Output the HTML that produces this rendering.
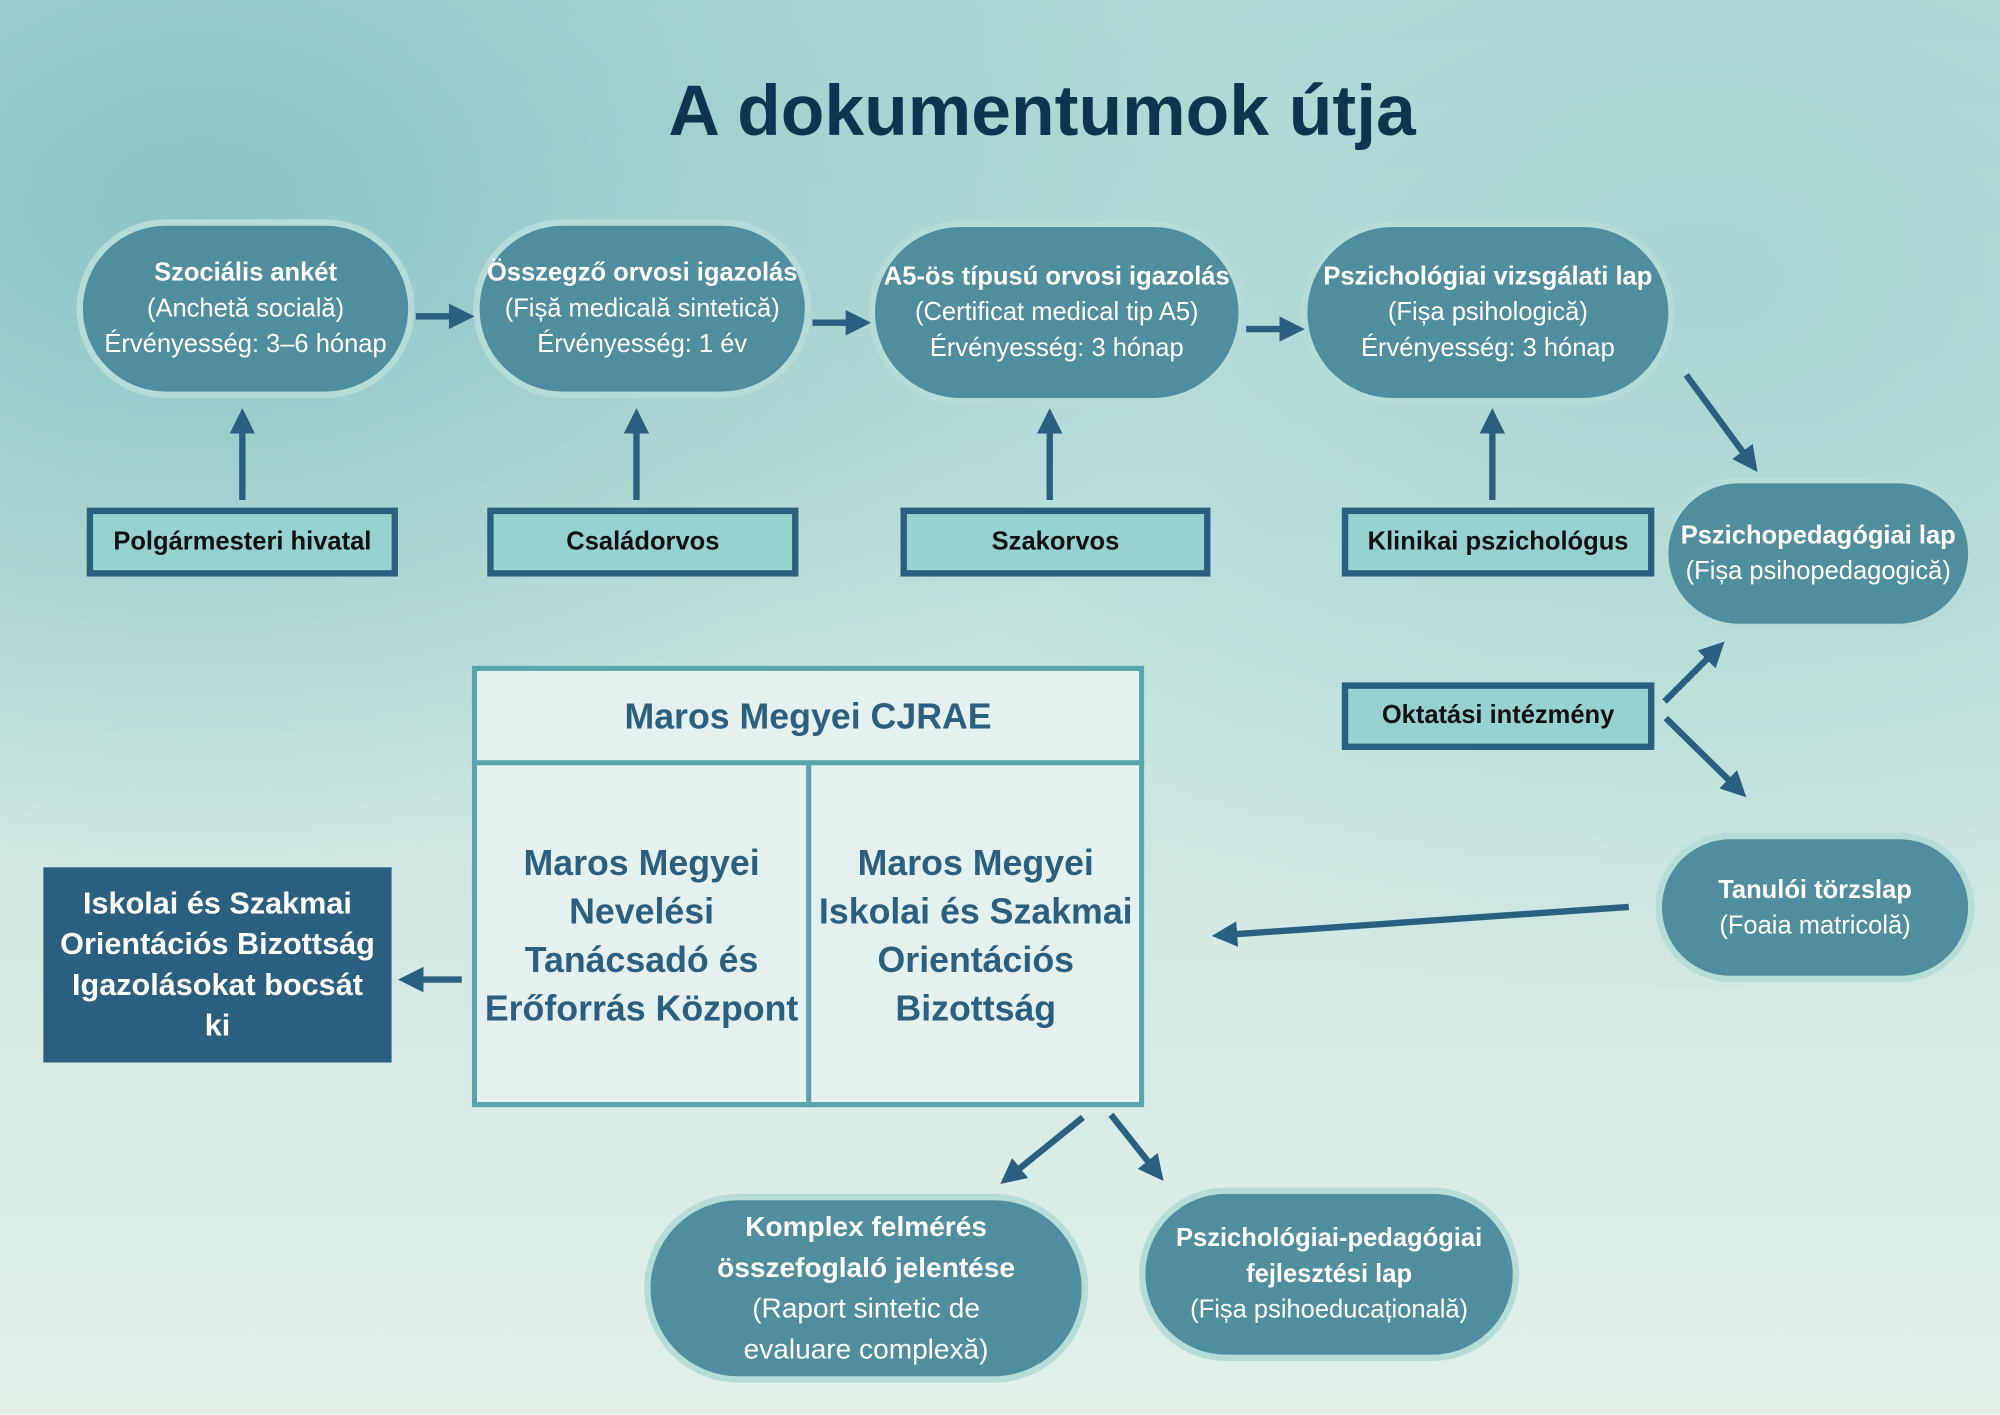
<!DOCTYPE html>
<html><head><meta charset="utf-8"><style>
html,body{margin:0;padding:0;width:2000px;height:1414px;overflow:hidden}
#w{position:absolute;left:0;top:0;width:1568px;height:1109px;transform:scale(1.27551);transform-origin:0 0;
background:radial-gradient(ellipse at 10% 15%,#8cc4c4 0%,rgba(140,196,196,0) 40%),radial-gradient(ellipse at 85% 20%,#a9d6d3 0%,rgba(169,214,211,0) 45%),linear-gradient(180deg,#b3dcd8 0%,#c9e6e0 45%,#e2f0e8 100%);
font-family:"Liberation Sans Narrow","Liberation Sans",sans-serif}
.p{position:absolute;box-sizing:border-box;border-radius:9999px;background:#508e9f;border:5px solid #b6dcd7;color:#fff;text-align:center;display:flex;flex-direction:column;justify-content:center;font-size:20px;line-height:28px}
.p b{font-size:20px}
.bx{position:absolute;box-sizing:border-box;background:#96d3d0;border:5px solid #2b5f80;font-weight:bold;font-size:20px;display:flex;align-items:center;justify-content:center;color:#111}
.t{position:absolute;left:33px;width:1568px;top:54px;text-align:center;font-family:"Liberation Sans",sans-serif;font-weight:bold;font-size:56px;color:#0d3550}
</style></head><body><div id="w">
<div class="t">A dokumentumok útja</div>
<div class="p" style="left:60px;top:172px;width:265px;height:140px"><b>Szociális ankét</b>(Anchetă socială)<br>Érvényesség: 3–6 hónap</div>
<div class="p" style="left:371px;top:172px;width:265px;height:140px"><b>Összegző orvosi igazolás</b>(Fișă medicală sintetică)<br>Érvényesség: 1 év</div>
<div class="p" style="left:681px;top:173px;width:295px;height:144px"><b>A5-ös típusú orvosi igazolás</b>(Certificat medical tip A5)<br>Érvényesség: 3 hónap</div>
<div class="p" style="left:1020px;top:173px;width:293px;height:144px"><b>Pszichológiai vizsgálati lap</b>(Fișa psihologică)<br>Érvényesség: 3 hónap</div>
<div class="p" style="left:1303px;top:374px;width:245px;height:120px"><b>Pszichopedagógiai lap</b>(Fișa psihopedagogică)</div>
<div class="p" style="left:1298px;top:653px;width:250px;height:117px"><b>Tanulói törzslap</b>(Foaia matricolă)</div>
<div class="p" style="left:505px;top:936px;width:348px;height:148px;font-size:22px;line-height:32px"><b style="font-size:22px">Komplex felmérés<br>összefoglaló jelentése</b>(Raport sintetic de<br>evaluare complexă)</div>
<div class="p" style="left:893px;top:931px;width:298px;height:136px"><b>Pszichológiai-pedagógiai<br>fejlesztési lap</b>(Fișa psihoeducațională)</div>
<div class="bx" style="left:68px;top:398px;width:244px;height:54px">Polgármesteri hivatal</div>
<div class="bx" style="left:382px;top:398px;width:244px;height:54px">Családorvos</div>
<div class="bx" style="left:706px;top:398px;width:243px;height:54px">Szakorvos</div>
<div class="bx" style="left:1052px;top:398px;width:245px;height:54px">Klinikai pszichológus</div>
<div class="bx" style="left:1052px;top:535px;width:245px;height:53px">Oktatási intézmény</div>
<div style="position:absolute;left:34px;top:680px;width:273px;height:153px;background:#2b5f80;color:#fff;font-weight:bold;font-size:24px;line-height:32px;text-align:center;display:flex;align-items:center;justify-content:center">Iskolai és Szakmai<br>Orientációs Bizottság<br>Igazolásokat bocsát<br>ki</div>
<div style="position:absolute;left:370px;top:522px;width:527px;height:346px;box-sizing:border-box;border:4px solid #5aa5aa;background:#e5f1ee"></div>
<div style="position:absolute;left:370px;top:596px;width:527px;height:4px;background:#5aa5aa"></div>
<div style="position:absolute;left:632px;top:598px;width:4px;height:270px;background:#5aa5aa"></div>
<div style="position:absolute;left:370px;top:546px;width:527px;text-align:center;font-size:28px;font-weight:bold;color:#2b5f80">Maros Megyei CJRAE</div>
<div style="position:absolute;left:374px;top:658px;width:258px;text-align:center;font-size:28px;line-height:38px;font-weight:bold;color:#2b5f80">Maros Megyei Nevelési Tanácsadó és Erőforrás Központ</div>
<div style="position:absolute;left:636px;top:658px;width:258px;text-align:center;font-size:28px;line-height:38px;font-weight:bold;color:#2b5f80">Maros Megyei Iskolai és Szakmai Orientációs Bizottság</div>
<svg width="1568" height="1109" style="position:absolute;left:0;top:0">
<defs><marker id="a" markerWidth="4" markerHeight="4" refX="2" refY="2" orient="auto" markerUnits="strokeWidth"><path d="M0,0L4,2L0,4z" fill="#2b5f80"/></marker></defs>
<g stroke="#2b5f80" stroke-width="5" fill="none" marker-end="url(#a)">
<line x1="326" y1="248" x2="362" y2="248"/>
<line x1="637" y1="253" x2="673" y2="253"/>
<line x1="977" y1="258" x2="1013" y2="258"/>
<line x1="190" y1="392" x2="190" y2="330"/>
<line x1="499" y1="392" x2="499" y2="330"/>
<line x1="823" y1="392" x2="823" y2="330"/>
<line x1="1170" y1="392" x2="1170" y2="330"/>
<line x1="1322" y1="294" x2="1372" y2="362"/>
<line x1="1305" y1="550" x2="1345" y2="510"/>
<line x1="1306" y1="563" x2="1362" y2="618"/>
<line x1="1277" y1="711" x2="960" y2="733"/>
<line x1="362" y1="768" x2="322" y2="768"/>
<line x1="849" y1="876" x2="792" y2="922"/>
<line x1="871" y1="874" x2="906" y2="918"/>
</g></svg>
</div></body></html>
